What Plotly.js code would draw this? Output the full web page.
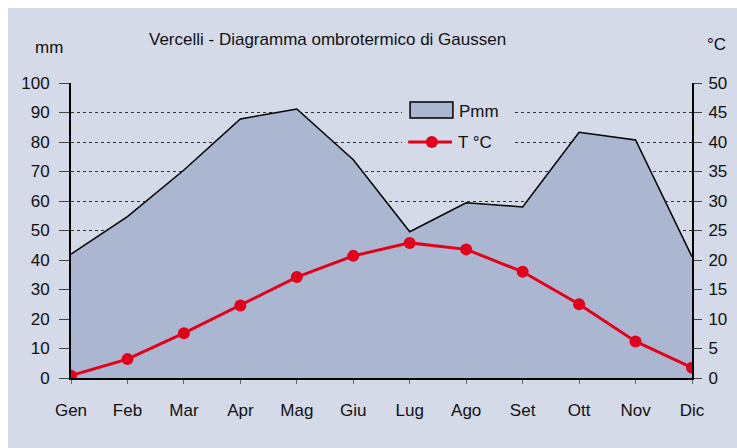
<!DOCTYPE html>
<html><head><meta charset="utf-8">
<script src="https://cdn.plot.ly/plotly-3.0.1.min.js"></script>
<style>
html,body{margin:0;padding:0;background:#ffffff;}
#chart{position:absolute;left:8px;top:8px;width:729px;height:440px;}
</style></head>
<body><div id="chart"></div>
<script>
const months = ["Gen","Feb","Mar","Apr","Mag","Giu","Lug","Ago","Set","Ott","Nov","Dic"];
const precipitation = [42, 54.7, 70.5, 87.8, 91.2, 74, 49.6, 59.4, 58, 83.3, 80.7, 41.1];
const temperature = [0.4, 3.2, 7.6, 12.3, 17.1, 20.7, 22.9, 21.8, 18.0, 12.5, 6.2, 1.75];
const leftTicks = [0,10,20,30,40,50,60,70,80,90,100];
const rightTicks = [0,5,10,15,20,25,30,35,40,45,50];
const seriesNames = ["Pmm", "T °C"];

const bg = "#d4dae7";
const fillCol = "#abb7d1";
const red = "#e3001b";
const font = "Liberation Sans, Arial, Helvetica, sans-serif";
const tf = {family: font, size: 17, color: "#111"};

const traces = [
  {x: months, y: precipitation, name: seriesNames[0], type: "scatter", mode: "lines",
   fill: "tozeroy", fillcolor: fillCol, line: {color: "#000000", width: 1.5}, yaxis: "y"},
  {x: months, y: temperature, name: seriesNames[1], type: "scatter", mode: "lines+markers",
   line: {color: red, width: 3}, marker: {color: red, size: 12}, yaxis: "y2"}
];

const layout = {
  width: 729, height: 440,
  paper_bgcolor: bg, plot_bgcolor: bg,
  margin: {l: 63, r: 45, t: 75, b: 70},
  font: tf,
  showlegend: false,
  xaxis: {type: "category", range: [0, 11], showgrid: false, showline: true, linecolor: "#000", linewidth: 2,
          ticks: "outside", ticklen: 4, tickcolor: "#666", tickfont: tf,
          ticklabelstandoff: 12, zeroline: false},
  yaxis: {range: [0, 100], tickvals: leftTicks, showgrid: true, gridcolor: "#333", griddash: "dot", gridwidth: 1,
          showline: true, linecolor: "#000", linewidth: 2, ticks: "outside", ticklen: 10, tickcolor: "#444",
          tickfont: tf, ticklabelstandoff: 6, zeroline: false},
  yaxis2: {range: [0, 50], tickvals: rightTicks, overlaying: "y", side: "right", showgrid: false,
           showline: true, linecolor: "#000", linewidth: 2, ticks: "outside", ticklen: 8, tickcolor: "#444",
           tickfont: tf, ticklabelstandoff: 3, zeroline: false},
  shapes: [
    {type: "rect", xref: "paper", yref: "paper", x0: 0.533, x1: 0.712, y0: 0.746, y1: 0.959,
     fillcolor: bg, line: {width: 0}, layer: "above"},
    {type: "rect", xref: "paper", yref: "paper", x0: 0.546, x1: 0.615, y0: 0.881, y1: 0.936,
     fillcolor: fillCol, line: {color: "#000", width: 1.5}, layer: "above"},
    {type: "line", xref: "paper", yref: "paper", x0: 0.543, x1: 0.6135, y0: 0.8, y1: 0.8,
     line: {color: red, width: 3}, layer: "above"},
    {type: "circle", xref: "paper", yref: "paper", xsizemode: "pixel", ysizemode: "pixel",
     xanchor: 0.581, yanchor: 0.8, x0: -6, x1: 6, y0: -6, y1: 6,
     fillcolor: red, line: {width: 0}, layer: "above"}
  ],
  annotations: [
    {text: "Vercelli - Diagramma ombrotermico di Gaussen", xref: "paper", yref: "paper", x: 0.413, y: 1.146,
     xanchor: "center", yanchor: "middle", showarrow: false, font: tf},
    {text: "mm", xref: "paper", yref: "paper", x: -0.0354, y: 1.122, xanchor: "center", yanchor: "middle",
     showarrow: false, font: tf},
    {text: "°C", xref: "paper", yref: "paper", x: 1.040, y: 1.129, xanchor: "center", yanchor: "middle",
     showarrow: false, font: tf},
    {text: seriesNames[0], xref: "paper", yref: "paper", x: 0.6216, y: 0.905, xanchor: "left", yanchor: "middle",
     showarrow: false, font: tf},
    {text: seriesNames[1], xref: "paper", yref: "paper", x: 0.620, y: 0.797, xanchor: "left", yanchor: "middle",
     showarrow: false, font: tf}
  ]
};
Plotly.newPlot("chart", traces, layout, {displayModeBar: false, staticPlot: true});
</script></body></html>
